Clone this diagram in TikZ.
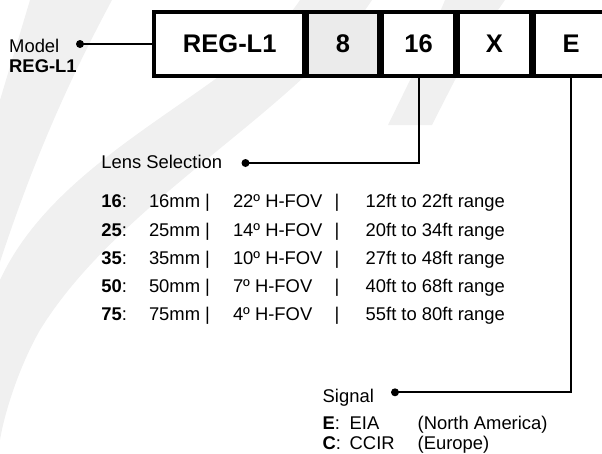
\documentclass[tikz,border=0pt]{standalone}
\usepackage{fontspec}
\setmainfont{Liberation Sans}
\definecolor{wmgray}{HTML}{F0F0F0}
\definecolor{cellgray}{HTML}{EBEBEB}
\begin{document}
\begin{tikzpicture}[x=1pt,y=-1pt,
  wm/.style={fill=wmgray},
  cell/.style={rectangle, inner sep=0pt, minimum height=64pt, fill=white,
    font=\bfseries\fontsize{25.5}{28}\selectfont},
  outer/.style={line width=4pt},
  divider/.style={line width=7pt},
  lbl/.style={anchor=base west, inner sep=0pt, font=\fontsize{18.4}{21}\selectfont},
  dot/.style={circle, fill=black, inner sep=0pt, minimum size=8pt},
  conn/.style={line width=2pt}]
\clip (0,0) rectangle (602,453);
% watermark bands
\fill[wm] (30,0) -- (112,0) .. controls (80,60) and (40,140) .. (0,262) -- (0,100) .. controls (12,60) .. (30,0) -- cycle;
\fill[wm] (300,0) .. controls (240,90) and (60,150) .. (0,280) -- (0,440)
  .. controls (5,410) and (20,365) .. (40,330)
  .. controls (120,200) and (300,110) .. (372,0) -- cycle;
\fill[wm] (445,0) -- (505,0) .. controls (470,50) .. (432,125) -- (388,125) .. controls (420,60) .. (445,0) -- cycle;
% cells
\node[cell, minimum width=151.5pt] (reg) at (229.75,44) {REG-L1};
\node[cell, minimum width=75pt, fill=cellgray] (c8) at (343,44) {8};
\node[cell, minimum width=76pt] (c16) at (418.5,44) {16};
\node[cell, minimum width=75.5pt] (cx) at (494.25,44) {X};
\node[cell, minimum width=78pt] (ce) at (571,44) {E};
\draw[outer] (reg.north west) rectangle (ce.south east);
\draw[divider] (reg.north east) -- (reg.south east);
\draw[divider] (c8.north east) -- (c8.south east);
\draw[divider] (c16.north east) -- (c16.south east);
\draw[divider] (cx.north east) -- (cx.south east);
% model
\node[lbl] (model) at (9,52.7) {Model};
\node[lbl] (modelname) at (9,72) {\textbf{REG-L1}};
\node[dot] (mdot) at (80,44) {};
\draw[conn] (mdot.center) -- (reg.west);
% lens
\node[lbl] (lens) at (101.2,168.3) {Lens Selection};
\node[dot] (ldot) at (245.5,163) {};
\draw[conn] (ldot.center) -- (ldot.center -| c16.south) -- (c16.south);
\foreach \i/\c/\mm/\fov/\rng in {0/16/16mm/22º/12ft to 22ft range,
                                 1/25/25mm/14º/20ft to 34ft range,
                                 2/35/35mm/10º/27ft to 48ft range,
                                 3/50/50mm/7º/40ft to 68ft range,
                                 4/75/75mm/4º/55ft to 80ft range}{
  \pgfmathsetmacro{\yy}{207.7+28.3*\i}
  \node[lbl] (code\i) at (101.2,\yy) {\textbf{\c}:};
  \node[lbl] (mm\i) at (148.8,\yy) {\mm\ |};
  \node[lbl] (fov\i) at (232.8,\yy) {\fov\ H-FOV};
  \node[lbl] (bar\i) at (334.5,\yy) {|};
  \node[lbl] (rng\i) at (365.5,\yy) {\rng};
}
% signal
\node[lbl] (sig) at (322.5,402) {Signal};
\node[dot] (sdot) at (395,392.3) {};
\draw[conn] (sdot.center) -- (sdot.center -| ce.south) -- (ce.south);
\node[lbl] (ecode) at (322.5,429) {\textbf{E}:};
\node[lbl] (eval) at (349.5,429) {EIA};
\node[lbl] (ereg) at (417.5,429) {(North America)};
\node[lbl] (ccode) at (322.5,449.5) {\textbf{C}:};
\node[lbl] (cval) at (349.5,449.5) {CCIR};
\node[lbl] (creg) at (417.5,449.5) {(Europe)};
\end{tikzpicture}
\end{document}
